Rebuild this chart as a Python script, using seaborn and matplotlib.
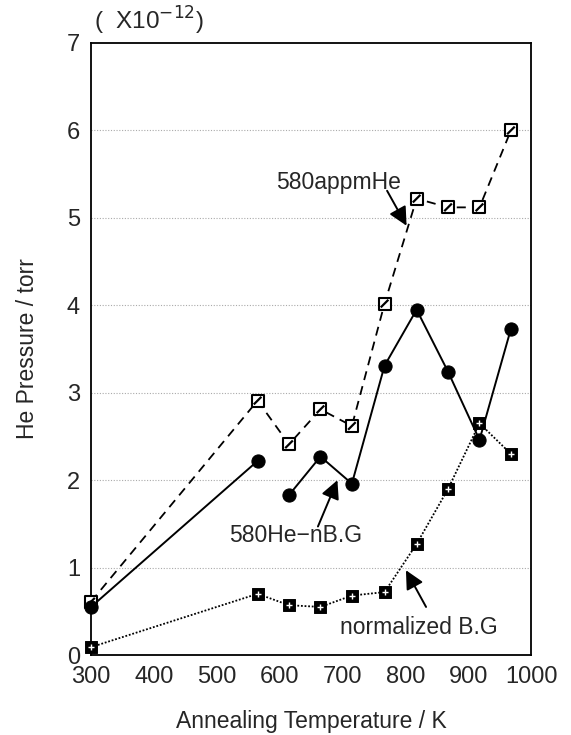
import numpy as np
import pandas as pd
import matplotlib
matplotlib.use("Agg")
import matplotlib.pyplot as plt
from matplotlib.path import Path
import seaborn as sns

# values (pressure in units of 1e-12 torr)
temps = [300, 565, 615, 665, 715, 767, 818, 868, 918, 968]
he580 = [0.61, 2.91, 2.41, 2.81, 2.62, 4.02, 5.22, 5.12, 5.12, 6.0]
he_nbg = [0.55, 2.22, 1.83, 2.27, 1.96, 3.31, 3.95, 3.24, 2.46, 3.73]
norm_bg = [0.09, 0.70, 0.57, 0.55, 0.68, 0.72, 1.27, 1.90, 2.65, 2.30]
nbg_segment = [0, 0, 1, 1, 1, 1, 1, 1, 1, 1]  # solid line is broken after 565 K

yticks = [0, 1, 2, 3, 4, 5, 6, 7]
xticks = [300, 400, 500, 600, 700, 800, 900, 1000]

sns.set_style("white")
plt.rcParams['font.family'] = ['Liberation Sans', 'DejaVu Sans']

df_he = pd.DataFrame({"T": temps, "P": he580})
df_nbg = pd.DataFrame({"T": temps, "P": he_nbg, "seg": nbg_segment})
df_bg = pd.DataFrame({"T": temps, "P": norm_bg})

fig = plt.figure(figsize=(5.71, 7.35), dpi=100)
ax = fig.add_axes([0.1594, 0.1088, 0.7706, 0.8327])

# horizontal dotted grid
for yv in yticks[1:-1]:
    ax.axhline(yv, color="#aaaaaa", lw=0.8, ls=(0, (1, 1.5)), zorder=0)

diag = Path([(-0.5, -0.5), (0.5, 0.5)], [Path.MOVETO, Path.LINETO])

# 580appmHe: dashed line, open squares with a diagonal stroke
sns.lineplot(data=df_he, x="T", y="P", ax=ax, color="black", lw=1.3,
             linestyle=(0, (5, 3.5)), estimator=None, sort=False, zorder=2)
sns.scatterplot(data=df_he, x="T", y="P", ax=ax, marker="s", s=70,
                facecolor="white", edgecolor="black", linewidth=1.5,
                zorder=4, clip_on=False)
sns.scatterplot(data=df_he, x="T", y="P", ax=ax, marker=diag, s=30,
                facecolor="none", edgecolor="black", linewidth=1.6,
                zorder=5, clip_on=False)

# 580He-nB.G: solid line, filled circles, two segments
sns.lineplot(data=df_nbg, x="T", y="P", units="seg", ax=ax, color="black",
             lw=1.4, estimator=None, sort=False, zorder=3)
sns.scatterplot(data=df_nbg, x="T", y="P", ax=ax, marker="o", s=90,
                color="black", edgecolor="black", zorder=5, clip_on=False)

# normalized B.G: dotted line, dark squares with white pattern
sns.lineplot(data=df_bg, x="T", y="P", ax=ax, color="black", lw=1.3,
             linestyle=(0, (1, 1)), estimator=None, sort=False, zorder=2)
sns.scatterplot(data=df_bg, x="T", y="P", ax=ax, marker="s", s=70,
                color="black", edgecolor="black", zorder=4, clip_on=False)
sns.scatterplot(data=df_bg, x="T", y="P", ax=ax, marker="+", s=22,
                color="white", edgecolor="white", linewidth=1.0,
                zorder=6, clip_on=False)

# annotations with arrows
arrow = dict(arrowstyle="-|>", color="black", lw=1.4, mutation_scale=28,
             shrinkA=0, shrinkB=0)
ax.text(693, 5.40, "580appmHe", fontsize=16.5, ha="center", va="center")
ax.annotate("", xy=(802, 4.91), xytext=(771, 5.31), arrowprops=arrow)

ax.text(626, 1.37, "580He\u2212nB.G", fontsize=16.5, ha="center", va="center")
ax.annotate("", xy=(692, 2.0), xytext=(661, 1.47), arrowprops=arrow)

ax.text(822, 0.32, "normalized B.G", fontsize=16.5, ha="center", va="center")
ax.annotate("", xy=(801, 0.97), xytext=(833, 0.55), arrowprops=arrow)

ax.set_xlim(300, 1000)
ax.set_ylim(0, 7)
ax.set_xticks(xticks)
ax.set_yticks(yticks)
ax.tick_params(axis="x", direction="in", length=4, color="#bbbbbb",
               labelsize=17, pad=8)
ax.tick_params(axis="y", length=0, labelsize=17, pad=8)
for sp in ax.spines.values():
    sp.set_color("black")
    sp.set_linewidth(1.3)

ax.set_xlabel("Annealing Temperature / K", fontsize=16.5, labelpad=16)
ax.set_ylabel("He Pressure / torr", fontsize=16.5, labelpad=20)
fig.text(0.165, 0.972, "(  X10$^{-12}$)", fontsize=17.5, ha="left", va="center")

fig.savefig("out.png", dpi=100)
